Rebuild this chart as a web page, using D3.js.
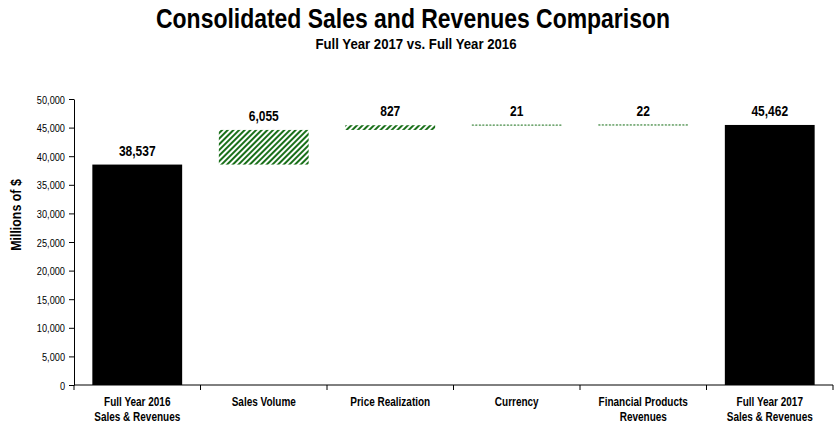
<!DOCTYPE html>
<html>
<head>
<meta charset="utf-8">
<script src="https://cdn.jsdelivr.net/npm/d3@7"></script>
<style>
body { margin: 0; background: #fff; }
text { font-family: "Liberation Sans", Arial, sans-serif; }
</style>
</head>
<body>
<svg id="chart" width="834" height="427"></svg>
<script>
// data
var categories = ["Full Year 2016|Sales & Revenues", "Sales Volume", "Price Realization", "Currency", "Financial Products|Revenues", "Full Year 2017|Sales & Revenues"];
var values = [38537, 6055, 827, 21, 22, 45462];
var kinds = ["total", "delta", "delta", "delta", "delta", "total"];
var yTicks = [0, 5000, 10000, 15000, 20000, 25000, 30000, 35000, 40000, 45000, 50000];

var svg = d3.select('#chart');
var mLeft = 74, mRight = 833, mTop = 99, mBottom = 385;
var narrowX = 0.8; // squeeze to look like Arial Narrow

var x = d3.scaleBand().domain(d3.range(categories.length)).range([mLeft, mRight]).paddingInner(0.29).paddingOuter(0.145);
var y = d3.scaleLinear().domain([0, 50000]).range([mBottom, mTop]);

// put a narrow text at (px,py)
function narrowText(g, px, py, s, sx) {
  return g.append('text').attr('transform', 'translate(' + px + ',' + py + ') scale(' + (sx || narrowX) + ',1)').text(s);
}

// hatch pattern
var defs = svg.append('defs');
var pat = defs.append('pattern').attr('id', 'hatch').attr('patternUnits', 'userSpaceOnUse')
  .attr('width', 4).attr('height', 4).attr('patternTransform', 'rotate(45)');
pat.append('rect').attr('width', 4).attr('height', 4).attr('fill', '#fff');
pat.append('rect').attr('width', 2).attr('height', 4).attr('fill', '#1a701a');

// waterfall start/end
var run = 0;
var bars = values.map(function (v, i) {
  var b;
  if (kinds[i] == "total") { b = {y0: 0, y1: v}; run = v; }
  else { b = {y0: run, y1: run + v}; run += v; }
  b.i = i; b.v = v; b.kind = kinds[i];
  return b;
});

// titles
narrowText(svg, 413, 28, 'Consolidated Sales and Revenues Comparison', 0.82)
  .attr('text-anchor', 'middle').style('font-size', '28px').style('font-weight', 'bold');
narrowText(svg, 416, 49, 'Full Year 2017 vs. Full Year 2016', 0.88)
  .attr('text-anchor', 'middle').style('font-size', '15px').style('font-weight', 'bold');

// y axis
var yAxis = svg.append('g').attr('transform', 'translate(' + mLeft + ',0)')
  .call(d3.axisLeft(y).tickValues(yTicks).tickSize(5).tickSizeOuter(0).tickFormat(d3.format(',')));
yAxis.selectAll('.tick text').attr('x', null).attr('dy', null)
  .attr('transform', 'translate(-9,4) scale(' + narrowX + ',1)').style('font-size', '11.5px');
yAxis.select('.domain').attr('stroke', '#000');

narrowText(svg, 0, 0, 'Millions of $')
  .attr('transform', 'translate(21,215) rotate(-90) scale(' + narrowX + ',1)')
  .attr('text-anchor', 'middle').style('font-size', '15.5px').style('font-weight', 'bold');

// bars
svg.selectAll('rect.bar').data(bars).enter().append('rect').attr('class', 'bar')
  .attr('x', function (d) { return x(d.i); })
  .attr('width', x.bandwidth())
  .attr('y', function (d) { return y(Math.max(d.y0, d.y1)); })
  .attr('height', function (d) { return Math.abs(y(d.y0) - y(d.y1)); })
  .attr('fill', function (d) { return d.kind == "total" ? '#000' : 'url(#hatch)'; });

// tiny deltas show as a dotted line
svg.selectAll('line.tiny').data(bars.filter(function (d) { return d.kind == "delta" && Math.abs(y(d.y0) - y(d.y1)) < 2; }))
  .enter().append('line').attr('class', 'tiny')
  .attr('x1', function (d) { return x(d.i); })
  .attr('x2', function (d) { return x(d.i) + x.bandwidth(); })
  .attr('y1', function (d) { return y(d.y1); }).attr('y2', function (d) { return y(d.y1); })
  .attr('stroke', '#1a701a').attr('stroke-width', 1).attr('stroke-dasharray', '2,1.5');

// value labels
bars.forEach(function (d) {
  narrowText(svg, x(d.i) + x.bandwidth() / 2, y(Math.max(d.y0, d.y1)) - 9, d3.format(',')(d.v))
    .attr('text-anchor', 'middle').style('font-size', '15px').style('font-weight', 'bold');
});

// x axis
var step = x.step();
var edges = d3.range(categories.length + 1).map(function (i) { return mLeft + i * step; });
var xg = svg.append('g');
xg.append('line').attr('x1', mLeft).attr('x2', mRight).attr('y1', mBottom).attr('y2', mBottom).attr('stroke', '#000');
xg.selectAll('line.tick').data(edges).enter().append('line').attr('class', 'tick')
  .attr('x1', function (d) { return d; }).attr('x2', function (d) { return d; })
  .attr('y1', mBottom).attr('y2', mBottom + 5).attr('stroke', '#000');

categories.forEach(function (c, i) {
  c.split('|').forEach(function (s, j) {
    narrowText(xg, x(i) + x.bandwidth() / 2, mBottom + 21 + j * 15, s)
      .attr('text-anchor', 'middle').style('font-size', '12.5px').style('font-weight', 'bold');
  });
});
</script>
</body>
</html>
